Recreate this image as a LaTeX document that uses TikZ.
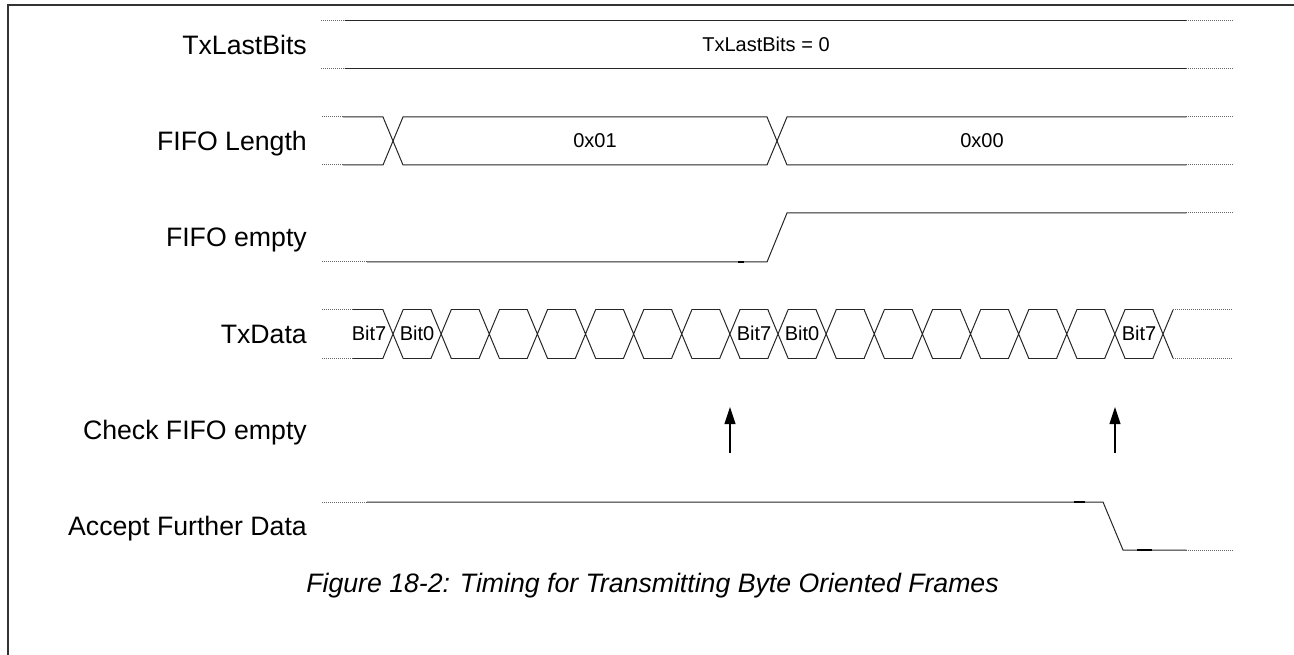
\documentclass[tikz,border=0pt]{standalone}
\usepackage{fontspec}
\setmainfont{Liberation Sans}
\usetikzlibrary{arrows.meta}
\tikzset{
  sig/.style={line width=1pt, black!85, line cap=round},
  darkmark/.style={line width=1.8pt, black},
  dotsig/.style={line width=1pt, black!60, dash pattern=on 1pt off 1pt},
  rowlabel/.style={anchor=base east, inner sep=0pt, font=\fontsize{26.67}{32}\selectfont},
  sigtext/.style={anchor=base, inner sep=0pt, font=\fontsize{20}{24}\selectfont},
  captext/.style={anchor=base, inner sep=0pt, font=\fontsize{26.67}{32}\selectfont\itshape},
  frameline/.style={line width=2.5pt, black!80},
  checkarrow/.style={line width=1.1pt, -{Triangle[length=17pt,width=11pt]}}
}
\begin{document}
\begin{tikzpicture}[x=1pt,y=-1pt]
\useasboundingbox (0,0) rectangle (1294,655);
% frame
\draw[frameline] (8,655) -- (8,5) -- (1294,5);
% row labels
\node[rowlabel] (lTx)   at (307,54.5)  {TxLastBits};
\node[rowlabel] (lLen)  at (307,150.5) {FIFO Length};
\node[rowlabel] (lEmp)  at (307,247)   {FIFO empty};
\node[rowlabel] (lDat)  at (307,343.5) {TxData};
\node[rowlabel] (lChk)  at (307,439.5) {Check FIFO empty};
\node[rowlabel] (lAcc)  at (307,535.5) {Accept Further Data};
% TxLastBits
\draw[dotsig] (321,21) -- (345,21) (321,69) -- (345,69) (1186,21) -- (1233,21) (1186,69) -- (1233,69);
\draw[sig] (345,21) -- (1186,21) (345,69) -- (1186,69);
\node[sigtext] (tTx) at (766,52) {TxLastBits = 0};
% FIFO Length
\draw[dotsig] (322,117) -- (343,117) (322,165) -- (343,165) (1186,117) -- (1233,117) (1186,165) -- (1233,165);
\draw[sig] (343,117) -- (383,117) -- (403,165) -- (767,165) -- (787,117) -- (1186,117);
\draw[sig] (343,165) -- (383,165) -- (403,117) -- (767,117) -- (787,165) -- (1186,165);
\node[sigtext] (t01) at (595,148) {0x01};
\node[sigtext] (t00) at (982,148) {0x00};
% FIFO empty
\draw[dotsig] (322,262) -- (367,262) (1186,213) -- (1233,213);
\draw[sig] (367,262) -- (767,262) -- (787,213) -- (1186,213);
\draw[darkmark] (738,262) -- (744,262);
% TxData
\draw[dotsig] (322,310) -- (353,310) (322,358) -- (353,358) (1173,310) -- (1233,310) (1173,358) -- (1233,358);
\draw[sig] (353,310) -- (383,310) (353,358) -- (383,358);
\foreach \k in {0,...,16} {
  \pgfmathsetmacro\cc{393+48.125*\k}
  \draw[sig] (\cc-10,310) -- (\cc+10,358) (\cc-10,358) -- (\cc+10,310);
}
\foreach \k in {0,...,15} {
  \pgfmathsetmacro\aa{393+48.125*\k+10}
  \pgfmathsetmacro\bb{393+48.125*(\k+1)-10}
  \draw[sig] (\aa,310) -- (\bb,310) (\aa,358) -- (\bb,358);
}
\node[sigtext] (b1) at (369,341) {Bit7};
\node[sigtext] (b2) at (417,341) {Bit0};
\node[sigtext] (b3) at (754,341) {Bit7};
\node[sigtext] (b4) at (802,341) {Bit0};
\node[sigtext] (b5) at (1139,341) {Bit7};
% Check FIFO empty arrows
\coordinate (a1s) at (730,453);
\coordinate (a1e) at (730,407);
\coordinate (a2s) at (1115,453);
\coordinate (a2e) at (1115,407);
\draw[checkarrow] (a1s) -- (a1e);
\draw[checkarrow] (a2s) -- (a2e);
% Accept Further Data
\draw[dotsig] (322,502) -- (367,502) (1186,550) -- (1233,550);
\draw[sig] (367,502) -- (1103,502) -- (1123,550) -- (1186,550);
\draw[darkmark] (1074,502) -- (1085,502) (1137,550) -- (1152,550);
% caption
\node[captext] (cap) at (652.5,592.5) {Figure 18-2: Timing for Transmitting Byte Oriented Frames};
\end{tikzpicture}
\end{document}
